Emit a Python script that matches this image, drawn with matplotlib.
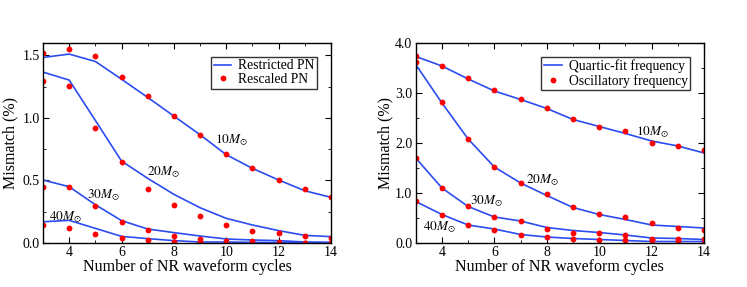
"""
Mismatch vs number of NR waveform cycles, two panels
"""
import matplotlib.pyplot as plt
from matplotlib.ticker import MultipleLocator

plt.rcParams['font.family'] = ['Liberation Serif', 'DejaVu Serif']
plt.rcParams['mathtext.fontset'] = 'stix'

cycles = [3, 4, 5, 6, 7, 8, 9, 10, 11, 12, 13, 14]
masses = ['10', '20', '30', '40']

# left panel: restricted PN (lines) and rescaled PN (dots)
restricted = {
    '10': [1.484, 1.511, 1.452, 1.31, 1.164, 1.015, 0.866, 0.706, 0.597, 0.504, 0.418, 0.365],
    '20': [1.367, 1.303, 0.98, 0.655, 0.517, 0.389, 0.282, 0.197, 0.144, 0.099, 0.061, 0.051],
    '30': [0.504, 0.45, 0.306, 0.179, 0.112, 0.083, 0.056, 0.032, 0.024, 0.019, 0.008, 0.005],
    '40': [0.17, 0.181, 0.117, 0.053, 0.035, 0.019, 0.008, 0.008, 0.005, 0.004, 0.003, 0.003],
}
rescaled = {
    '10': [1.516, 1.553, 1.497, 1.33, 1.178, 1.015, 0.861, 0.714, 0.6, 0.506, 0.429, 0.368],
    '20': [1.295, 1.255, 0.917, 0.645, 0.432, 0.301, 0.216, 0.141, 0.099, 0.08, 0.056, 0.04],
    '30': [0.45, 0.445, 0.293, 0.165, 0.107, 0.059, 0.032, 0.019, 0.013, 0.005, 0.003, 0.003],
    '40': [0.144, 0.117, 0.069, 0.043, 0.021, 0.011, 0.005, 0.003, 0.002, 0.002, 0.002, 0.002],
}

# right panel: quartic-fit frequency (lines) and oscillatory frequency (dots)
quartic = {
    '10': [3.73, 3.54, 3.28, 3.04, 2.87, 2.69, 2.47, 2.33, 2.19, 2.04, 1.94, 1.80],
    '20': [3.57, 2.80, 2.08, 1.52, 1.20, 0.95, 0.71, 0.57, 0.47, 0.36, 0.33, 0.30],
    '30': [1.70, 1.10, 0.73, 0.52, 0.44, 0.31, 0.25, 0.21, 0.16, 0.10, 0.09, 0.07],
    '40': [0.83, 0.57, 0.36, 0.28, 0.17, 0.12, 0.09, 0.07, 0.05, 0.03, 0.03, 0.03],
}
oscillatory = {
    '10': [3.73, 3.53, 3.29, 3.05, 2.87, 2.70, 2.47, 2.32, 2.23, 2.00, 1.93, 1.85],
    '20': [3.61, 2.81, 2.08, 1.52, 1.20, 0.97, 0.72, 0.57, 0.51, 0.39, 0.30, 0.27],
    '30': [1.70, 1.09, 0.73, 0.51, 0.44, 0.28, 0.21, 0.21, 0.16, 0.09, 0.09, 0.09],
    '40': [0.83, 0.56, 0.35, 0.27, 0.17, 0.13, 0.09, 0.06, 0.06, 0.06, 0.05, 0.0],
}

left_label_pos = {'10': (10.18, 0.82), '20': (7.61, 0.57), '30': (5.30, 0.384), '40': (3.87, 0.205)}
right_label_pos = {'10': (12.03, 2.21), '20': (7.85, 1.26), '30': (5.71, 0.83), '40': (3.91, 0.32)}

blue = '#2b4cf0'
red = '#ff0000'

fig = plt.figure(figsize=(7.47, 2.87), dpi=100)
ax1 = fig.add_axes([0.0576, 0.1533, 0.3855, 0.697])
ax2 = fig.add_axes([0.5565, 0.1533, 0.386, 0.697])

panels = [
    (ax1, restricted, rescaled, 'Restricted PN', 'Rescaled PN', left_label_pos, 1.6, 0.5, 0.25, 2.5),
    (ax2, quartic, oscillatory, 'Quartic-fit frequency', 'Oscillatory frequency', right_label_pos, 4.0, 1.0, 0.5, 1.5),
]

for ax, lines, dots, lname, dname, lpos, ymax, ymaj, ymin, ypad in panels:
    for i, m in enumerate(masses):
        ax.plot(cycles, lines[m], color=blue, lw=1.2, label=lname if i == 0 else None)
        ax.plot(cycles, dots[m], 'o', color=red, ms=4.2, mec='none', label=dname if i == 0 else None)
        ax.text(lpos[m][0], lpos[m][1], '$' + m + 'M_{\\odot}$', fontsize=9.5, ha='center', va='center')
    ax.set_xlim(3, 14)
    ax.set_ylim(0, ymax)
    ax.xaxis.set_major_locator(MultipleLocator(2))
    ax.xaxis.set_minor_locator(MultipleLocator(1))
    ax.yaxis.set_major_locator(MultipleLocator(ymaj))
    ax.yaxis.set_minor_locator(MultipleLocator(ymin))
    ax.yaxis.set_major_formatter(plt.FormatStrFormatter('%.1f'))
    ax.tick_params(which='both', direction='in', top=True, right=True, labelsize=10, pad=2.5)
    ax.tick_params(which='major', length=4.5)
    ax.tick_params(which='minor', length=2.5)
    ax.set_xlabel('Number of NR waveform cycles', fontsize=11.5, labelpad=0)
    ax.set_ylabel('Mismatch (%)', fontsize=11.5, labelpad=ypad)
    leg = ax.legend(loc='upper right', fontsize=9.8, frameon=True, fancybox=False,
                    edgecolor='black', handlelength=1.3, handletextpad=0.5,
                    borderpad=0.2, labelspacing=0.05, borderaxespad=1.0)
    leg.get_frame().set_linewidth(1.0)
    for s in ax.spines.values():
        s.set_linewidth(1.0)

fig.savefig('out.png', dpi=100)
